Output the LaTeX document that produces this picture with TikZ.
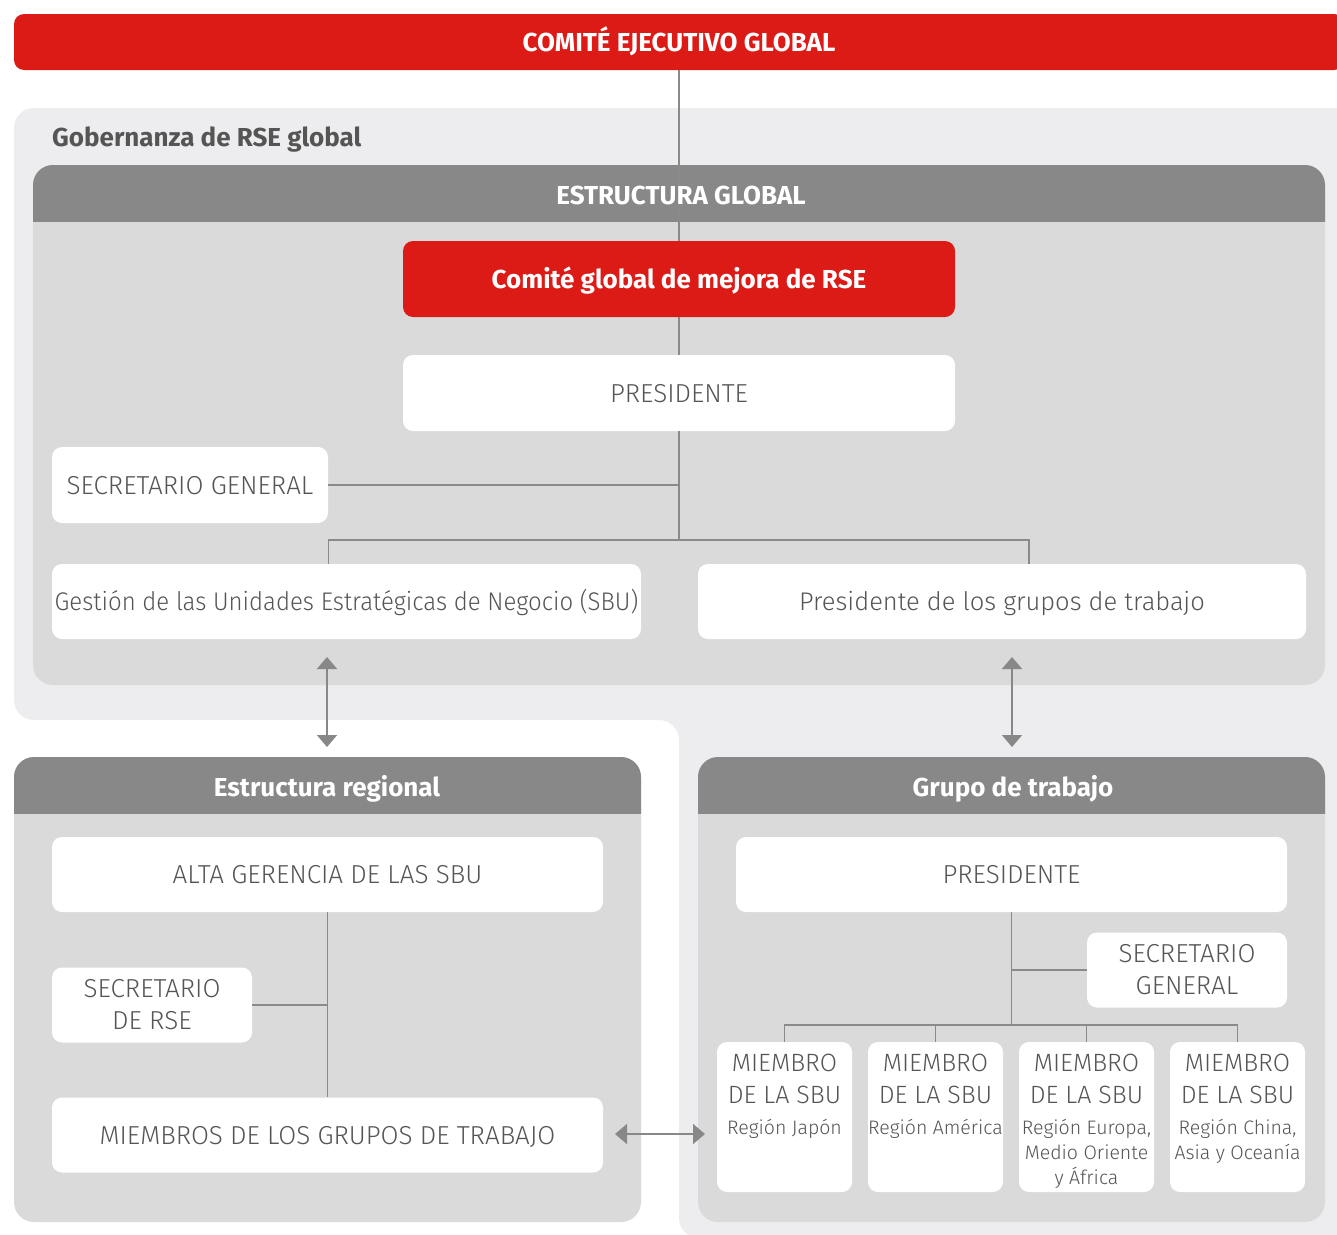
\documentclass[tikz,border=0pt]{standalone}
\usepackage{fontspec}
\setmainfont{Fira Sans}
\newfontfamily\lightfont{Fira Sans Light}
\newfontfamily\lightnarrow{Fira Sans Light}[FakeStretch=0.94]
\usetikzlibrary{arrows.meta,calc}
\definecolor{cred}{HTML}{DC1A16}
\definecolor{chead}{HTML}{888888}
\definecolor{cpanel}{HTML}{DADADA}
\definecolor{cbg}{HTML}{EDEDEF}
\definecolor{ctext}{HTML}{555555}
\definecolor{cline}{HTML}{8A8A8A}
\begin{document}
\begin{tikzpicture}[x=1pt,y=-1pt,
  ttl/.style={text=white, font=\bfseries\fontsize{26}{30}\selectfont, inner sep=0pt, text height=18pt, text depth=0pt},
  redbox/.style={fill=cred, rounded corners=10pt, inner sep=0pt, text=white, font=\bfseries\fontsize{26}{30}\selectfont, text height=18pt, text depth=0pt},
  wbox/.style 2 args={fill=white, rounded corners=10pt, inner sep=0pt, text=ctext, align=center,
     font=\lightfont\fontsize{26}{32}\selectfont, minimum width=#1, minimum height=#2},
  one/.style={text height=18pt, text depth=0pt},
  memtxt/.style={text=ctext, align=center, inner sep=0pt, font=\lightfont\fontsize{25}{32}\selectfont},
  regtxt/.style={text=ctext, align=center, inner sep=0pt, font=\lightfont\fontsize{19.5}{25}\selectfont},
  conn/.style={draw=cline, line width=1.3pt},
  arr/.style={draw=chead, line width=1.8pt, {Triangle[width=20pt,length=12pt]}-{Triangle[width=20pt,length=12pt]}}
]
\useasboundingbox (0,0) rectangle (1337,1234);
% outer governance background (L shape)
\fill[cbg, rounded corners=20pt] (14,108) -- (1380,108) -- (1380,1238) -- (679,1238) -- (679,720) -- (14,720) -- cycle;
% top red bar
\node[redbox, minimum width=1330pt, minimum height=56pt] (cej) at (679,42) {COMITÉ EJECUTIVO GLOBAL};
\node[anchor=base west, inner sep=0pt, text=ctext, font=\bfseries\fontsize{26}{30}\selectfont] (gob) at (52,146) {Gobernanza de RSE global};
% global panel
\fill[cpanel, rounded corners=20pt] (33,165) rectangle (1325,685);
\begin{scope}
  \clip (0,160) rectangle (1337,221);
  \fill[chead, rounded corners=20pt] (33,165) rectangle (1325,685);
\end{scope}
% regional panel
\fill[cpanel, rounded corners=20pt] (14,757) rectangle (641,1222);
\begin{scope}
  \clip (0,750) rectangle (660,813);
  \fill[chead, rounded corners=20pt] (14,757) rectangle (641,1222);
\end{scope}
% working group panel
\fill[cpanel, rounded corners=20pt] (698,757) rectangle (1325,1222);
\begin{scope}
  \clip (680,750) rectangle (1337,813);
  \fill[chead, rounded corners=20pt] (698,757) rectangle (1325,1222);
\end{scope}

% global structure boxes
\node[redbox, minimum width=552pt, minimum height=76pt] (comite) at (679,279) {Comité global de mejora de RSE};
\node[wbox={552pt}{76pt}, one] (pres1) at (679,393) {PRESIDENTE};
\node[wbox={276pt}{76pt}, one] (secg) at (190,485) {SECRETARIO GENERAL};
\node[wbox={589pt}{75pt}, one, font=\lightnarrow\fontsize{25.5}{32}\selectfont] (sbu) at (346.5,601.5) {Gestión de las Unidades Estratégicas de Negocio (SBU)};
\node[wbox={608pt}{75pt}, one, font=\lightfont\fontsize{25.5}{32}\selectfont] (pgt) at (1002,601.5) {Presidente de los grupos de trabajo};
\coordinate (j1) at (679,540);
\coordinate (pgttop) at (1029,564);
\draw[conn] (cej.south) -- (comite.north);
\draw[conn] (comite.south) -- (pres1.north);
\draw[conn] (pres1.south) -- (j1);
\draw[conn] (secg.east) -- (secg.east -| j1);
\draw[conn] (j1) -| (sbu.north -| secg.east);
\draw[conn] (j1) -| (pgttop);

% panel titles
\node[ttl] (hglob) at (681,195) {ESTRUCTURA GLOBAL};
\node[ttl] (hreg) at (327,787) {Estructura regional};
\node[ttl] (hgt) at (1013,787) {Grupo de trabajo};

% arrows between levels
\coordinate (a1t) at (327,657);
\coordinate (a1b) at (327,747);
\coordinate (a2t) at (1012,657);
\coordinate (a2b) at (1012,747);
\draw[arr] (a1t) -- (a1b);
\draw[arr] (a2t) -- (a2b);

% regional boxes
\node[wbox={551pt}{75pt}, one] (alta) at (327.5,874.5) {ALTA GERENCIA DE LAS SBU};
\node[wbox={200pt}{75pt}] (secr) at (152,1005) {SECRETARIO\\DE RSE};
\node[wbox={551pt}{75pt}, one] (miem) at (327.5,1135) {MIEMBROS DE LOS GRUPOS DE TRABAJO};
\draw[conn] (alta.south) -- (miem.north);
\draw[conn] (secr.east) -- (secr.east -| alta.south);

% working group boxes
\node[wbox={551pt}{75pt}, one] (pres2) at (1011.5,874.5) {PRESIDENTE};
\node[wbox={200pt}{75pt}] (secg2) at (1187,970) {SECRETARIO\\GENERAL};
\node[wbox={135pt}{150pt}] (m1) at (784.5,1117) {};
\node[wbox={135pt}{150pt}] (m2) at (935.5,1117) {};
\node[wbox={135pt}{150pt}] (m3) at (1086.5,1117) {};
\node[wbox={135pt}{150pt}] (m4) at (1237.5,1117) {};
\coordinate (j2) at (1011.5,1025);
\draw[conn] (pres2.south) -- (j2);
\draw[conn] (secg2.west) -- (secg2.west -| pres2.south);
\draw[conn] (m1.north) |- (j2) -| (m4.north);
\draw[conn] (m2.north) -- (m2.north |- j2);
\draw[conn] (m3.north) -- (m3.north |- j2);

\node[memtxt, anchor=north] (m1h) at (784.5,1054) {MIEMBRO\\DE LA SBU};
\node[memtxt, anchor=north] (m2h) at (935.5,1054) {MIEMBRO\\DE LA SBU};
\node[memtxt, anchor=north] (m3h) at (1086.5,1054) {MIEMBRO\\DE LA SBU};
\node[memtxt, anchor=north] (m4h) at (1237.5,1054) {MIEMBRO\\DE LA SBU};
\node[regtxt, anchor=north] (m1r) at (784.5,1119) {Región Japón};
\node[regtxt, anchor=north] (m2r) at (935.5,1119) {Región América};
\node[regtxt, anchor=north] (m3r) at (1086.5,1119) {Región Europa,\\Medio Oriente\\y África};
\node[regtxt, anchor=north] (m4r) at (1237.5,1119) {Región China,\\Asia y Oceanía};

% horizontal arrow
\coordinate (h1) at (615,1134);
\coordinate (h2) at (705,1134);
\draw[arr] (h1) -- (h2);
\end{tikzpicture}
\end{document}
